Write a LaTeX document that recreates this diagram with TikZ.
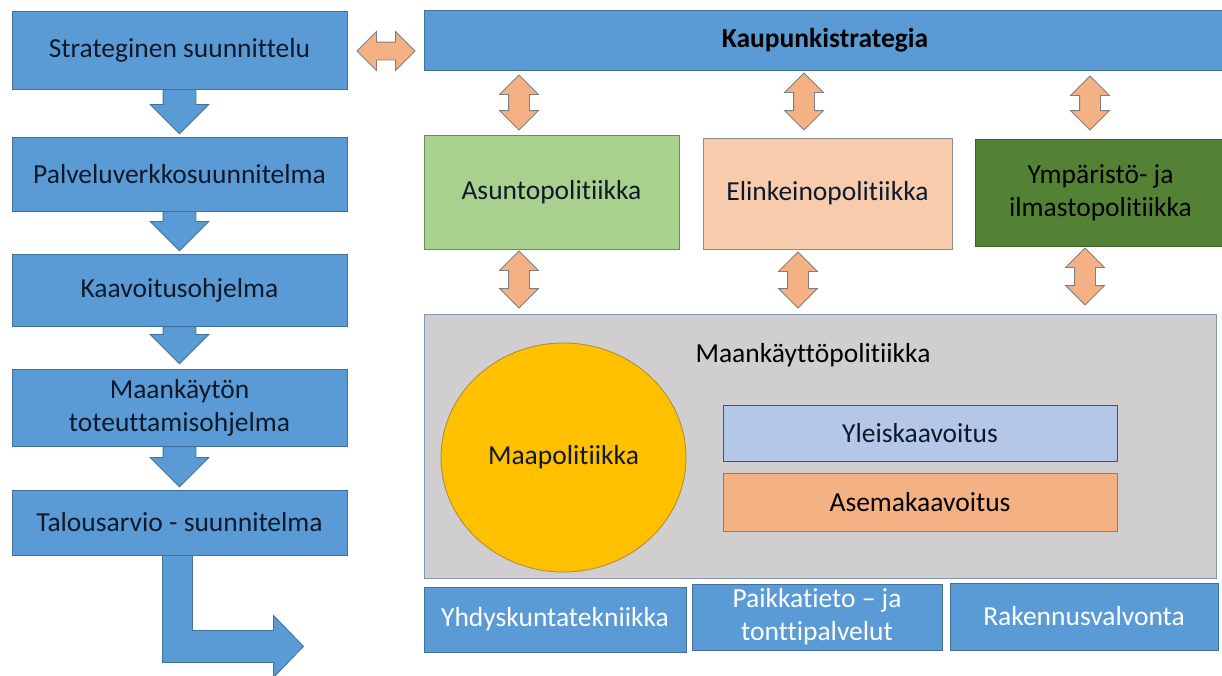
\documentclass[tikz,border=0pt]{standalone}
\usepackage{fontspec}
\setmainfont{Carlito}[Ligatures={TeX,NoCommon,NoContextual,NoRare}]
\usetikzlibrary{shapes.arrows,shapes.geometric,calc}
\definecolor{cblue}{HTML}{5B9BD5}
\definecolor{cblueb}{HTML}{41719C}
\definecolor{cgreen}{HTML}{A9D18E}
\definecolor{cgreenb}{HTML}{6E8B5E}
\definecolor{csalmon}{HTML}{F8CBAD}
\definecolor{csalmonb}{HTML}{8C8C8C}
\definecolor{cdkgreen}{HTML}{548235}
\definecolor{cdkgreenb}{HTML}{3D5F27}
\definecolor{cgrey}{HTML}{D0CECE}
\definecolor{cgreyb}{HTML}{8497B0}
\definecolor{cgold}{HTML}{FFC000}
\definecolor{cgoldb}{HTML}{A68A3E}
\definecolor{cltblue}{HTML}{B4C7E7}
\definecolor{cltblueb}{HTML}{2F5597}
\definecolor{corange}{HTML}{F4B183}
\definecolor{corangeb}{HTML}{8C7C70}
\definecolor{arrf}{HTML}{F4B183}
\definecolor{arrb}{HTML}{7F7F7F}
\definecolor{ctext}{HTML}{0E1A2B}
\tikzset{
  bx/.style={rectangle, draw, line width=0.8pt, inner sep=2pt, align=center,
    text=ctext, font=\fontsize{27.5}{33}\selectfont},
  bluebox/.style={bx, fill=cblue, draw=cblueb},
  leftbox/.style={bluebox, minimum width=335pt},
  svcbox/.style={bluebox, text=white},
  downarr/.style={single arrow, draw=cblueb, fill=cblue, line width=0.8pt,
    inner ysep=0pt, inner xsep=16pt, single arrow head extend=13pt,
    shape border rotate=270, anchor=tail},
  darrv/.style={double arrow, draw=arrb, fill=arrf, line width=0.8pt,
    inner ysep=0pt, inner xsep=10pt, double arrow head extend=9pt,
    shape border rotate=90, minimum height=55pt},
  darrh/.style={double arrow, draw=arrb, fill=arrf, line width=0.8pt,
    inner xsep=0pt, inner ysep=8.5pt, double arrow head extend=10.5pt,
    minimum height=58pt},
}
\begin{document}
\begin{tikzpicture}[x=1pt,y=-1pt]
\useasboundingbox (0,0) rectangle (1222,675);

% left column
\node[leftbox, minimum height=78pt] (s1) at (179.5,50) {Strateginen suunnittelu};
\node[leftbox, minimum height=74pt] (s2) at (179.5,174) {Palveluverkkosuunnitelma};
\node[leftbox, minimum height=72pt] (s3) at (179.5,290) {Kaavoitusohjelma};
\node[leftbox, minimum height=77pt] (s4) at (179.5,407.5) {Maankäytön\\toteuttamisohjelma};
\node[leftbox, minimum height=65pt] (s5) at (179.5,522.5) {Talousarvio - suunnitelma};

\node[downarr, minimum height=44pt] (a1) at (s1.south) {};
\node[downarr, minimum height=39pt] (a2) at (s2.south) {};
\node[downarr, minimum height=37pt] (a3) at (s3.south) {};
\node[downarr, minimum height=40pt] (a4) at (s4.south) {};

\coordinate (b0) at ($(s5.south)+(-17,0)$);
\draw[fill=cblue, draw=cblueb, line width=0.8pt, line join=miter]
  (b0) -- ++(30,0) -- ++(0,75) -- ++(81,0) -- ++(0,-15) -- ++(30,31)
  -- ++(-30,31) -- ++(0,-15) -- ++(-111,0) -- cycle;

% top strategy
\node[bluebox, minimum width=802pt, minimum height=60pt,
  font=\fontsize{27.5}{33}\selectfont\bfseries, text=black] (ks) at (825,40) {Kaupunkistrategia};
\node[darrh] (h1) at (386,51) {};

% policies
\node[bx, fill=cgreen, draw=cgreenb, minimum width=255pt, minimum height=114pt] (asu) at (551.5,192) {Asuntopolitiikka};
\node[bx, fill=csalmon, draw=csalmonb, minimum width=249pt, minimum height=111pt] (eli) at (827.5,193.5) {Elinkeinopolitiikka};
\node[bx, fill=cdkgreen, draw=cdkgreenb, minimum width=251pt, minimum height=107pt, text=black] (ymp) at (1100.5,192.5) {Ympäristö- ja\\ilmastopolitiikka};

\node[darrv] (v1) at (519,102.5) {};
\node[darrv, minimum height=57pt] (v2) at (804,101.5) {};
\node[darrv, minimum height=54pt] (v3) at (1090,103) {};

\node[darrv, minimum height=57pt] (w1) at (519,279.5) {};
\node[darrv, minimum height=56pt] (w2) at (798,280) {};
\node[darrv, minimum height=57pt] (w3) at (1085,276.5) {};

% land use
\node[bx, fill=cgrey, draw=cgreyb, minimum width=792pt, minimum height=264pt] (mk) at (820,446) {};
\node[font=\fontsize{27.5}{33}\selectfont, text=black, inner sep=0pt] (mkt) at (813,355) {Maankäyttöpolitiikka};
\node[ellipse, draw=cgoldb, fill=cgold, line width=0.8pt, minimum width=245pt, minimum height=229pt,
  inner sep=0pt, font=\fontsize{27.5}{33}\selectfont, text=ctext] (mp) at (563.5,457.5) {Maapolitiikka};
\node[bx, fill=cltblue, draw=cltblueb, minimum width=394pt, minimum height=56pt] (yk) at (920,433) {Yleiskaavoitus};
\node[bx, fill=corange, draw=corangeb, minimum width=394pt, minimum height=58pt, text=black] (ak) at (920,502) {Asemakaavoitus};

% services
\node[svcbox, minimum width=262pt, minimum height=65pt] (yt) at (555,619.5) {Yhdyskuntatekniikka};
\node[svcbox, minimum width=250pt, minimum height=66pt] (pt) at (817,617) {Paikkatieto – ja\\tonttipalvelut};
\node[svcbox, minimum width=268pt, minimum height=67pt] (rv) at (1084,616.5) {Rakennusvalvonta};
\end{tikzpicture}
\end{document}
